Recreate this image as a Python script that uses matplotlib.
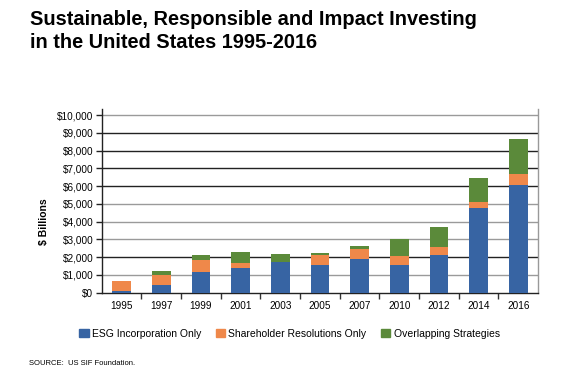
import matplotlib
matplotlib.use("Agg")
import matplotlib.pyplot as plt
import numpy as np
from matplotlib.patches import Patch
from matplotlib.ticker import FuncFormatter

plt.rcParams["font.family"] = ["Liberation Sans", "DejaVu Sans"]

years = ["1995", "1997", "1999", "2001", "2003", "2005", "2007", "2010", "2012", "2014", "2016"]
esg = [110, 430, 1150, 1370, 1730, 1540, 1900, 1540, 2140, 4780, 6040]
shareholder = [550, 580, 690, 280, 0, 580, 580, 510, 410, 340, 620]
overlapping = [0, 190, 300, 660, 430, 110, 170, 990, 1160, 1350, 2000]
series_names = ["ESG Incorporation Only", "Shareholder Resolutions Only", "Overlapping Strategies"]
colors = ["#3764A3", "#EF884A", "#5B8A3A"]
# gridline shades as they appear in the source image ($1,000 .. $10,000)
grid_shades = ["#9a9a9a", "#222222", "#9a9a9a", "#9a9a9a", "#9a9a9a",
               "#222222", "#222222", "#222222", "#222222", "#9a9a9a"]

fig = plt.figure(figsize=(5.75, 3.88), dpi=100)
ax = fig.add_axes([0.1769, 0.2456, 0.7588, 0.474])

x = np.arange(len(years))
bottom = np.zeros(len(years))
for vals, c in zip([esg, shareholder, overlapping], colors):
    ax.bar(x, vals, width=0.47, bottom=bottom, color=c, zorder=3)
    bottom += np.array(vals)

for lvl, shade in zip(range(1000, 10001, 1000), grid_shades):
    ax.axhline(lvl, color=shade, lw=1.0, zorder=1)

ax.set_xlim(-0.5, len(years) - 0.5)
ax.set_ylim(0, 10350)
ax.set_yticks(range(0, 10001, 1000))
ax.yaxis.set_major_formatter(FuncFormatter(lambda v, p: f"${int(v):,}"))
ax.set_xticks(x)
ax.set_xticklabels(years)
ax.set_xticks(np.arange(0.5, len(years) - 1, 1), minor=True)
ax.tick_params(axis="x", which="major", length=0, pad=6, labelsize=7.2)
ax.tick_params(axis="x", which="minor", length=4, width=1, color="#333333", direction="out")
ax.tick_params(axis="y", length=4, width=1, color="#222222", pad=2, labelsize=7.2)

ax.spines["top"].set_visible(False)
ax.spines["left"].set_color("#222222")
ax.spines["bottom"].set_color("#222222")
ax.spines["right"].set_color("#999999")
for s in ax.spines.values():
    s.set_linewidth(1.0)

fig.text(0.076, 0.428, "$ Billions", rotation=90, ha="center", va="center",
         fontsize=7.5, fontweight="bold")

fig.text(0.052, 0.974, "Sustainable, Responsible and Impact Investing\nin the United States 1995-2016",
         ha="left", va="top", fontsize=14.4, fontweight="bold", linespacing=1.26)

handles = [Patch(color=c) for c in colors]
fig.legend(handles, series_names, loc="center", bbox_to_anchor=(0.5035, 0.14), ncol=3,
           frameon=False, fontsize=7.5, handlelength=0.9, handleheight=0.9,
           handletextpad=0.3, columnspacing=1.4, borderaxespad=0)

fig.text(0.0496, 0.062, "SOURCE:  US SIF Foundation.", fontsize=5.5, ha="left", va="center")

fig.savefig("out.png", dpi=100)
